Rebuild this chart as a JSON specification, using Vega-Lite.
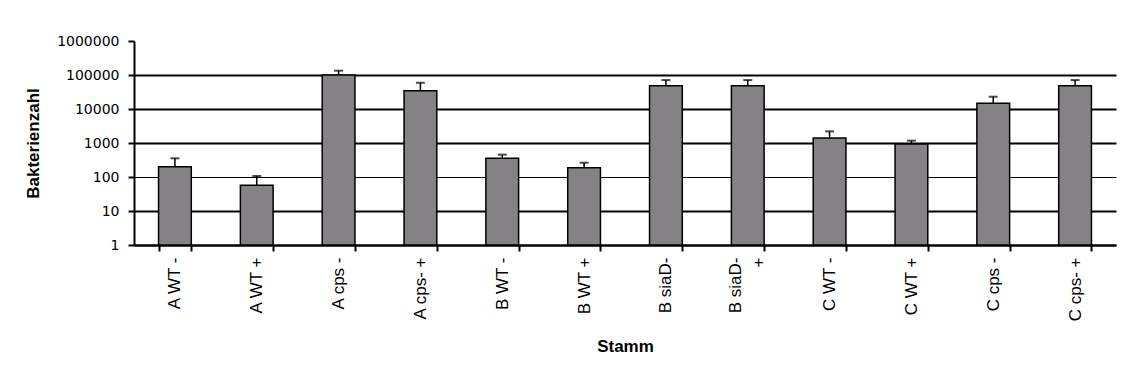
{
  "$schema": "https://vega.github.io/schema/vega-lite/v6.json",
  "width": 982,
  "height": 204,
  "autosize": {"type": "none"},
  "padding": {"left": 134, "top": 41, "right": 6, "bottom": 131},
  "background": "white",
  "config": {
    "view": {"stroke": null},
    "font": "Liberation Sans"
  },
  "data": {
    "values": [
      {"stamm": "A WT -", "mean": 200, "upper": 355},
      {"stamm": "A WT +", "mean": 57, "upper": 107},
      {"stamm": "A cps -", "mean": 100000, "upper": 134000},
      {"stamm": "A cps- +", "mean": 34500, "upper": 59000},
      {"stamm": "B WT -", "mean": 355, "upper": 455},
      {"stamm": "B WT +", "mean": 187, "upper": 263},
      {"stamm": "B siaD-", "mean": 48500, "upper": 71000},
      {"stamm": "B siaD- +", "mean": 48500, "upper": 71000},
      {"stamm": "C WT -", "mean": 1400, "upper": 2200},
      {"stamm": "C WT +", "mean": 935, "upper": 1170},
      {"stamm": "C cps -", "mean": 14700, "upper": 23000},
      {"stamm": "C cps- +", "mean": 48500, "upper": 71000}
    ]
  },
  "layer": [
    {
      "mark": {"type": "bar", "fill": "#858285", "stroke": "black", "strokeWidth": 1.5},
      "encoding": {
        "x": {
          "field": "stamm",
          "type": "nominal",
          "sort": null,
          "scale": {"paddingInner": 0.6, "paddingOuter": 0.3},
          "axis": {
            "title": "Stamm",
            "titleFont": "Liberation Sans",
            "titleFontSize": 17,
            "titleFontWeight": "bold",
            "titleColor": "black",
            "titlePadding": 18,
            "labelAngle": -90,
            "labelFont": "Liberation Sans",
            "labelFontSize": 17,
            "labelColor": "black",
            "labelPadding": 6,
            "labelLineHeight": 23,
            "labelOffset": {"condition": {"test": "datum.value === 'B siaD- +'", "value": -12}, "value": 0},
            "labelExpr": "datum.value == 'B siaD- +' ? ['B siaD-', '+\u00a0\u00a0\u00a0\u00a0\u00a0'] : datum.value",
            "tickBand": "extent",
            "tickColor": "black",
            "tickWidth": 2,
            "tickSize": 6,
            "domainColor": "black",
            "domainWidth": 2
          }
        },
        "y": {
          "field": "mean",
          "type": "quantitative",
          "scale": {"type": "log", "domain": [1, 1000000], "nice": false},
          "axis": {
            "values": [1, 10, 100, 1000, 10000, 100000, 1000000],
            "format": "d",
            "grid": true,
            "gridColor": "black",
            "gridWidth": {"condition": {"test": "datum.value === 100", "value": 1}, "value": 2},
            "gridOpacity": {"condition": {"test": "datum.value >= 1000000", "value": 0}, "value": 1},
            "domainColor": "black",
            "domainWidth": 2,
            "tickColor": "black",
            "tickWidth": 2,
            "tickSize": 6,
            "labelPadding": 9,
            "labelFont": "DejaVu Sans",
            "labelFontSize": 14,
            "labelColor": "black",
            "title": "Bakterienzahl",
            "titleFont": "Liberation Sans",
            "titleFontSize": 17,
            "titleFontWeight": "bold",
            "titleColor": "black",
            "titlePadding": 14
          }
        },
        "y2": {"datum": 1}
      }
    },
    {
      "mark": {"type": "rule", "stroke": "black", "strokeWidth": 1.5},
      "encoding": {
        "x": {"field": "stamm", "type": "nominal", "sort": null},
        "y": {"field": "mean", "type": "quantitative"},
        "y2": {"field": "upper"}
      }
    },
    {
      "mark": {"type": "tick", "color": "black", "size": 9, "thickness": 2},
      "encoding": {
        "x": {"field": "stamm", "type": "nominal", "sort": null},
        "y": {"field": "upper", "type": "quantitative"}
      }
    }
  ]
}
